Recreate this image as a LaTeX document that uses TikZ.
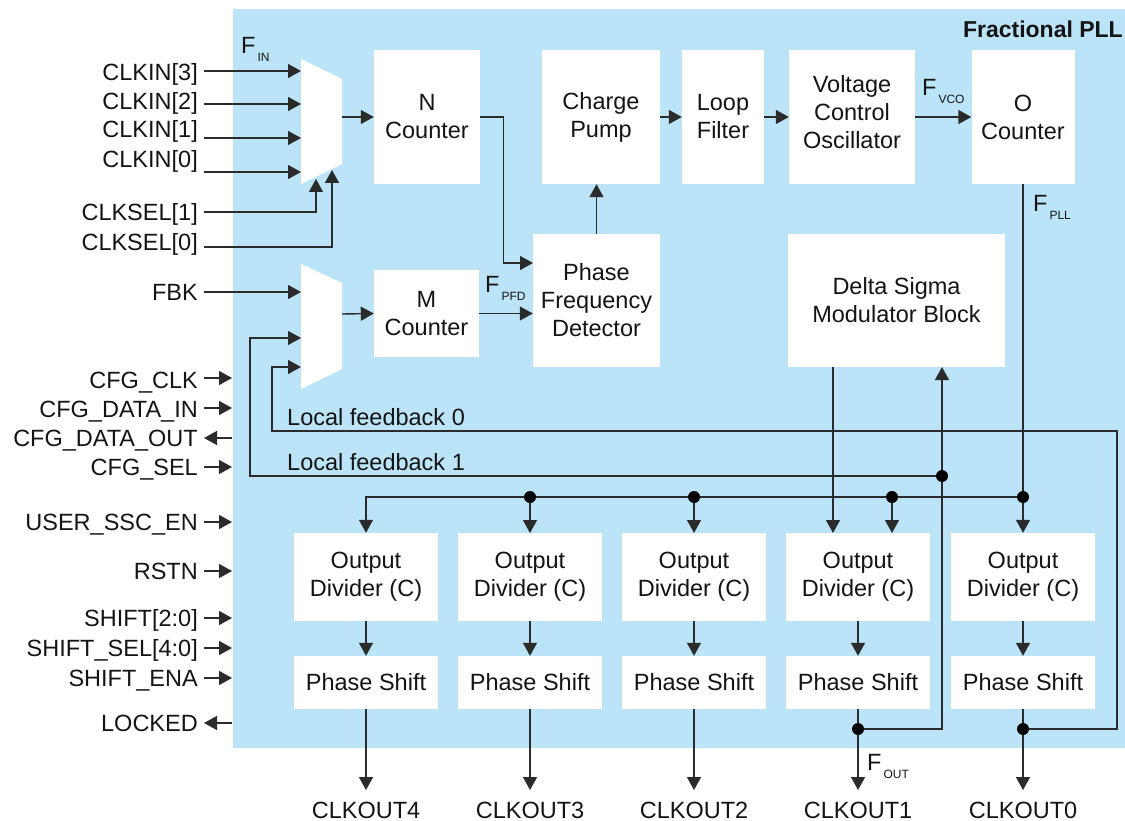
\documentclass[tikz,border=0pt]{standalone}
\usepackage{fontspec}
\setmainfont{Liberation Sans}
\usepackage{tikz}
\usetikzlibrary{arrows.meta,positioning,calc}
\definecolor{pllblue}{HTML}{BBE4F8}
\definecolor{cwire}{HTML}{2B2B2B}
\definecolor{ink}{HTML}{141414}
\newcommand{\fsub}[1]{F\kern2pt\raisebox{-8pt}{\fontsize{12}{12}\selectfont #1}}

\begin{document}
\begin{tikzpicture}[x=1pt,y=-1pt,
  every node/.style={inner sep=0pt,font=\fontsize{23.5}{28}\selectfont,text=ink},
  blk/.style={fill=white,align=center},
  wireln/.style={draw=cwire,line width=1.4pt},
  sig/.style={wireln,-{Triangle[length=13pt,width=14pt]}},
  pinlab/.style={anchor=base east},
  dot/.style={circle,fill=black,minimum size=12pt}]
  \useasboundingbox (0,0) rectangle (1125,821);
  \fill[pllblue] (233,9) rectangle (1125,748);
  \node[anchor=base east,font=\bfseries\fontsize{23}{26}\selectfont] (title) at (1123,38) {Fractional PLL};

  % loop blocks
  \node[blk,minimum width=106pt,minimum height=134pt] (ncnt) at (427,117) {N\\Counter};
  \node[blk,minimum width=118pt,minimum height=134pt] (cp) at (601,117) {Charge\\Pump};
  \node[blk,minimum width=82pt,minimum height=134pt] (lf) at (723,117) {Loop\\Filter};
  \node[blk,minimum width=126pt,minimum height=134pt,text depth=10pt] (vco) at (852,117) {Voltage\\Control\\Oscillator};
  \node[blk,minimum width=103pt,minimum height=134pt] (ocnt) at (1023,117) {O\\Counter};
  \node[blk,minimum width=105pt,minimum height=87pt] (mcnt) at (426.5,313.5) {M\\Counter};
  \node[blk,minimum width=127pt,minimum height=133pt] (pfd) at (596.5,300.5) {Phase\\Frequency\\Detector};
  \node[blk,minimum width=217pt,minimum height=133pt] (dsm) at (896.5,300.5) {Delta Sigma\\Modulator Block};

  % muxes
  \fill[white] (301,59) -- (342,79) -- (342,164) -- (301,184) -- cycle;
  \fill[white] (301,264) -- (342,283) -- (342,369) -- (301,389) -- cycle;

  % inputs
  \foreach \lab/\ty/\ay [count=\n] in {CLKIN[3]/81/71, CLKIN[2]/110/104, CLKIN[1]/138/138, CLKIN[0]/168/172, FBK/300/292} {
    \node[pinlab] (clkin\n) at (198,\ty) {\lab};
    \draw[sig] (204,\ay) -- (301,\ay);
  }
  \node[pinlab] (sel1) at (198,221) {CLKSEL[1]};
  \node[pinlab] (sel0) at (198,251) {CLKSEL[0]};
  \draw[sig] (204,212) -| (316,179);
  \draw[sig] (204,247) -| (332,170);
  \foreach \lab/\ty/\ay [count=\n] in {CFG\_CLK/388/378, CFG\_DATA\_IN/417/408, CFG\_SEL/475/467, USER\_SSC\_EN/530/522, RSTN/579/571, SHIFT[2:0]/626/618, SHIFT\_SEL[4:0]/656/648, SHIFT\_ENA/686/678} {
    \node[pinlab] (pin\n) at (198,\ty) {\lab};
    \draw[sig] (204,\ay) -- (232,\ay);
  }
  \foreach \lab/\ty/\ay [count=\n] in {CFG\_DATA\_OUT/446/438, LOCKED/731/723} {
    \node[pinlab] (pout\n) at (198,\ty) {\lab};
    \draw[sig] (232,\ay) -- (204,\ay);
  }

  % frequency labels
  \node[anchor=base west] (fin) at (241,54) {\fsub{IN}};
  \node[anchor=base west] (fpfd) at (485,292) {\fsub{PFD}};
  \node[anchor=base west] (fvco) at (922,96) {\fsub{VCO}};
  \node[anchor=base west] (fpll) at (1033,212) {\fsub{PLL}};
  \node[anchor=base west] (fout) at (867,770) {\fsub{OUT}};
  \node[anchor=base west] (lfb0) at (287,425) {Local feedback 0};
  \node[anchor=base west] (lfb1) at (287,470) {Local feedback 1};

  % main loop
  \draw[sig] (342,117) -- (ncnt.west);
  \draw[sig] (ncnt.east) -- ++(23,0) |- (533,263);
  \draw[sig] (342,314) -- (mcnt.west);
  \draw[sig] (mcnt.east) -- (mcnt.east -| pfd.west);
  \draw[sig] (pfd.north) -- (cp.south -| pfd.north);
  \draw[sig] (cp) -- (lf);
  \draw[sig] (lf) -- (vco.west |- lf);
  \draw[sig] (vco.east |- ocnt) -- (ocnt);

  % output channels
  \foreach \xx/\k [count=\i] in {366/4, 530/3, 694/2, 858/1, 1023/0} {
    \node[blk,minimum width=144pt,minimum height=88pt] (div\i) at (\xx,577) {Output\\Divider (C)};
    \node[blk,minimum width=144pt,minimum height=53pt] (ps\i) at (\xx,682.5) {Phase Shift};
    \node[anchor=base] (clk\i) at (\xx,818) {CLKOUT\k};
    \draw[sig] (div\i) -- (ps\i);
    \draw[sig] (ps\i) -- (\xx,790);
  }
  \draw[sig] (ocnt.south) -- (div5.north);
  \draw[sig] (1023,497) -| (div1.north);
  \foreach \xx in {530,694,892} {
    \draw[sig] (\xx,497) -- (\xx,533);
  }
  \draw[sig] (833,367) -- (833,533);

  % feedback paths
  \draw[wireln] (858,729) -| (942,476);
  \draw[sig] (942,476) -- (942,367);
  \draw[sig] (942,476) -- (250,476) |- (301,338);
  \draw[sig] (1023,729) -| (1117,431) -- (272,431) |- (301,367);

  \foreach \p in {(530,497),(694,497),(892,497),(1023,497),(942,476),(858,729),(1023,729)}
    \node[dot] at \p {};
\end{tikzpicture}
\end{document}
